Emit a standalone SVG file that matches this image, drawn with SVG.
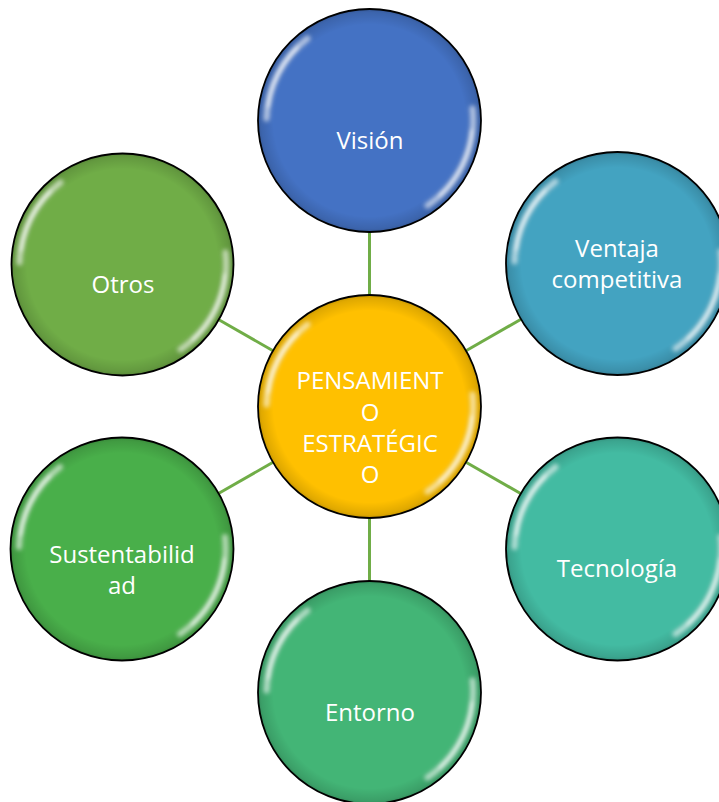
<svg xmlns="http://www.w3.org/2000/svg" width="719" height="802" viewBox="0 0 719 802">
  <defs>
    <style>
      .conn { stroke: #70AD47; stroke-width: 3; fill: none; }
      .ring { stroke: #000; stroke-width: 1.8; }
      .rim { fill: url(#rimGrad); }
      .label { font-family: "Open Sans", "Liberation Sans", sans-serif; font-size: 24px; fill: #FFFFFF; text-anchor: middle; }
      .hl { stroke: #FFFFFF; fill: none; stroke-linecap: round; }
    </style>
    <radialGradient id="rimGrad" cx="0.5" cy="0.5" r="0.5">
      <stop offset="0.86" stop-color="#000" stop-opacity="0"/>
      <stop offset="0.97" stop-color="#000" stop-opacity="0.12"/>
      <stop offset="1" stop-color="#000" stop-opacity="0.22"/>
    </radialGradient>
    <filter id="blur" x="-20%" y="-20%" width="140%" height="140%">
      <feGaussianBlur stdDeviation="2"/>
    </filter>
    <g id="gloss" filter="url(#blur)">
      <path class="hl" stroke-width="6" stroke-opacity="0.6" d="M -103 -2 A 103 103 0 0 1 -62 -82"/>
      <path class="hl" stroke-width="2.5" stroke-opacity="0.95" d="M -101 -14 A 103 103 0 0 1 -72 -73"/>
      <path class="hl" stroke-width="6" stroke-opacity="0.6" d="M 103 -12 A 103 103 0 0 1 58 85"/>
      <path class="hl" stroke-width="2.5" stroke-opacity="0.95" d="M 102 10 A 103 103 0 0 1 70 75"/>
    </g>
  </defs>

  <g id="connectors">
    <line class="conn" x1="369.5" y1="295" x2="369.5" y2="232"/>
    <line class="conn" x1="466" y1="350.8" x2="521" y2="319.2"/>
    <line class="conn" x1="466" y1="462.2" x2="521" y2="493.8"/>
    <line class="conn" x1="369.5" y1="518" x2="369.5" y2="581"/>
    <line class="conn" x1="273" y1="462.2" x2="218" y2="493.8"/>
    <line class="conn" x1="273" y1="350.8" x2="218" y2="319.2"/>
  </g>

  <g id="node-vision">
    <circle cx="369.5" cy="120.5" r="111.5" fill="#4472C4"/>
    <circle class="rim" cx="369.5" cy="120.5" r="111.5"/>
    <use href="#gloss" x="369.5" y="120.5"/>
    <circle class="ring" cx="369.5" cy="120.5" r="111.5" fill="none"/>
    <text class="label" x="370" y="149">Visión</text>
  </g>

  <g id="node-ventaja">
    <circle cx="617.5" cy="263.5" r="111.5" fill="#43A3C1"/>
    <circle class="rim" cx="617.5" cy="263.5" r="111.5"/>
    <use href="#gloss" x="617.5" y="263.5"/>
    <circle class="ring" cx="617.5" cy="263.5" r="111.5" fill="none"/>
    <text class="label" x="617" y="257">Ventaja</text>
    <text class="label" x="617" y="288">competitiva</text>
  </g>

  <g id="node-tecnologia">
    <circle cx="617.5" cy="549" r="111.5" fill="#43BBA2"/>
    <circle class="rim" cx="617.5" cy="549" r="111.5"/>
    <use href="#gloss" x="617.5" y="549"/>
    <circle class="ring" cx="617.5" cy="549" r="111.5" fill="none"/>
    <text class="label" x="617" y="577">Tecnología</text>
  </g>

  <g id="node-entorno">
    <circle cx="369.5" cy="692.5" r="111.5" fill="#43B576"/>
    <circle class="rim" cx="369.5" cy="692.5" r="111.5"/>
    <use href="#gloss" x="369.5" y="692.5"/>
    <circle class="ring" cx="369.5" cy="692.5" r="111.5" fill="none"/>
    <text class="label" x="370" y="721">Entorno</text>
  </g>

  <g id="node-sustentabilidad">
    <circle cx="122" cy="549" r="111.5" fill="#49AF4A"/>
    <circle class="rim" cx="122" cy="549" r="111.5"/>
    <use href="#gloss" x="122" y="549"/>
    <circle class="ring" cx="122" cy="549" r="111.5" fill="none"/>
    <text class="label" x="122" y="563">Sustentabilid</text>
    <text class="label" x="122" y="594">ad</text>
  </g>

  <g id="node-otros">
    <circle cx="122.5" cy="264.5" r="111" fill="#70AD47"/>
    <circle class="rim" cx="122.5" cy="264.5" r="111"/>
    <use href="#gloss" x="122.5" y="264.5"/>
    <circle class="ring" cx="122.5" cy="264.5" r="111" fill="none"/>
    <text class="label" x="123" y="293">Otros</text>
  </g>

  <g id="node-center">
    <circle cx="369.5" cy="406.5" r="111.5" fill="#FFC000"/>
    <circle class="rim" cx="369.5" cy="406.5" r="111.5"/>
    <use href="#gloss" x="369.5" y="406.5"/>
    <circle class="ring" cx="369.5" cy="406.5" r="111.5" fill="none"/>
    <text class="label" x="370" y="389">PENSAMIENT</text>
    <text class="label" x="370" y="421">O</text>
    <text class="label" x="370" y="452">ESTRATÉGIC</text>
    <text class="label" x="370" y="483">O</text>
  </g>
</svg>
